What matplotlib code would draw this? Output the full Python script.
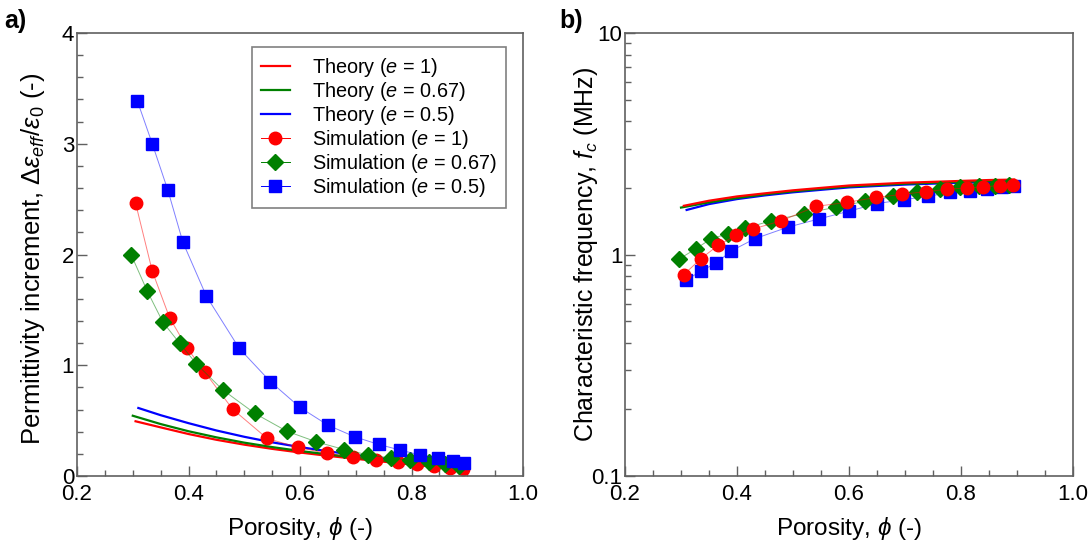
import matplotlib
matplotlib.use("Agg")
import matplotlib.pyplot as plt
from matplotlib.lines import Line2D
from matplotlib.ticker import MultipleLocator, LogLocator, FixedLocator, NullFormatter

plt.rcParams['font.family'] = ['Liberation Sans', 'DejaVu Sans']
plt.rcParams['mathtext.fontset'] = 'custom'
plt.rcParams['mathtext.rm'] = 'Liberation Sans'
plt.rcParams['mathtext.it'] = 'Liberation Sans:italic'
plt.rcParams['mathtext.bf'] = 'Liberation Sans:bold'

# ---- theory curves (porosity grid) ----
phi_th_r = [0.305, 0.35, 0.40, 0.45, 0.50, 0.55, 0.60, 0.65, 0.70, 0.75, 0.80, 0.85, 0.895]
phi_th_g = [0.300, 0.35, 0.40, 0.45, 0.50, 0.55, 0.60, 0.65, 0.70, 0.75, 0.80, 0.85, 0.895]
phi_th_b = [0.310, 0.35, 0.40, 0.45, 0.50, 0.55, 0.60, 0.65, 0.70, 0.75, 0.80, 0.85, 0.895]

eps_th_r = [0.495, 0.44, 0.38, 0.328, 0.284, 0.246, 0.213, 0.183, 0.156, 0.13, 0.105, 0.08, 0.055]
eps_th_g = [0.545, 0.47, 0.405, 0.35, 0.302, 0.262, 0.227, 0.196, 0.167, 0.14, 0.113, 0.085, 0.058]
eps_th_b = [0.615, 0.55, 0.478, 0.412, 0.355, 0.305, 0.262, 0.224, 0.19, 0.158, 0.127, 0.095, 0.062]

fc_th_r = [1.66, 1.75, 1.83, 1.89, 1.95, 2.00, 2.05, 2.08, 2.11, 2.13, 2.15, 2.17, 2.18]
fc_th_g = [1.63, 1.72, 1.80, 1.87, 1.93, 1.98, 2.03, 2.06, 2.09, 2.11, 2.13, 2.15, 2.16]
fc_th_b = [1.59, 1.69, 1.78, 1.85, 1.91, 1.96, 2.01, 2.04, 2.07, 2.09, 2.11, 2.12, 2.13]

# ---- simulation points ----
phi_sim_r = [0.305, 0.335, 0.366, 0.398, 0.429, 0.479, 0.541, 0.596, 0.648, 0.695,
             0.737, 0.775, 0.810, 0.840, 0.869, 0.892]
phi_sim_g = [0.297, 0.326, 0.354, 0.384, 0.414, 0.461, 0.519, 0.576, 0.629, 0.679,
             0.722, 0.763, 0.798, 0.832, 0.860, 0.886]
phi_sim_b = [0.308, 0.335, 0.363, 0.390, 0.432, 0.491, 0.547, 0.600, 0.650, 0.698,
             0.741, 0.780, 0.816, 0.847, 0.874, 0.894]

eps_sim_r = [2.465, 1.85, 1.43, 1.153, 0.94, 0.605, 0.34, 0.26, 0.205, 0.17,
             0.145, 0.126, 0.108, 0.09, 0.075, 0.066]
eps_sim_g = [2.0, 1.67, 1.39, 1.20, 1.014, 0.78, 0.566, 0.406, 0.31, 0.24,
             0.192, 0.163, 0.142, 0.124, 0.108, 0.093]
eps_sim_b = [3.39, 3.00, 2.58, 2.11, 1.625, 1.153, 0.852, 0.62, 0.46, 0.355,
             0.286, 0.235, 0.19, 0.16, 0.138, 0.12]

fc_sim_r = [0.812, 0.956, 1.10, 1.22, 1.306, 1.42, 1.65, 1.72, 1.81, 1.87,
            1.925, 1.97, 2.00, 2.02, 2.05, 2.06]
fc_sim_g = [0.956, 1.06, 1.18, 1.24, 1.315, 1.42, 1.53, 1.635, 1.74, 1.83,
            1.925, 1.98, 2.01, 2.03, 2.05, 2.06]
fc_sim_b = [0.765, 0.84, 0.917, 1.04, 1.18, 1.33, 1.45, 1.57, 1.70, 1.77,
            1.83, 1.91, 1.94, 1.98, 2.01, 2.03]

labels_th = ['Theory ($e$ = 1)', 'Theory ($e$ = 0.67)', 'Theory ($e$ = 0.5)']
labels_sim = ['Simulation ($e$ = 1)', 'Simulation ($e$ = 0.67)', 'Simulation ($e$ = 0.5)']
colors = ['#ff0000', '#008000', '#0000ff']
markers = ['o', 'D', 's']
msizes = [9, 8.5, 8.5]

fig = plt.figure(figsize=(10.91, 5.46), dpi=100)
ax1 = fig.add_axes([0.0706, 0.128, 0.4088, 0.8115])
ax2 = fig.add_axes([0.5729, 0.128, 0.4106, 0.8115])

spine_col = '#606060'


def style(ax):
    for s in ax.spines.values():
        s.set_color(spine_col)
        s.set_linewidth(1.2)
    ax.tick_params(which='both', direction='in', top=False, right=False,
                   color=spine_col, labelsize=16)
    ax.tick_params(axis='x', pad=6)
    ax.tick_params(axis='y', pad=2)
    ax.tick_params(which='major', length=7, width=1)
    ax.tick_params(which='minor', length=4, width=1)
    ax.set_xlim(0.2, 1.0)
    ax.xaxis.set_major_locator(MultipleLocator(0.2))
    ax.xaxis.set_minor_locator(MultipleLocator(0.05))
    ax.set_xlabel(r'Porosity, $\phi$ (-)', fontsize=17.5, labelpad=7)


# panel a
th_a = [(phi_th_r, eps_th_r), (phi_th_g, eps_th_g), (phi_th_b, eps_th_b)]
sim_a = [(phi_sim_r, eps_sim_r), (phi_sim_g, eps_sim_g), (phi_sim_b, eps_sim_b)]
for (x, y), c in zip(th_a, colors):
    ax1.plot(x, y, color=c, lw=1.6)
for (x, y), c, m, ms in zip(sim_a, colors, markers, msizes):
    ax1.plot(x, y, color=c, lw=0.7, alpha=0.5)
    ax1.plot(x, y, ls='none', marker=m, ms=ms, color=c, mec=c)
style(ax1)
ax1.set_ylim(0, 4)
ax1.yaxis.set_major_locator(MultipleLocator(1))
ax1.yaxis.set_minor_locator(MultipleLocator(0.2))
ax1.set_ylabel(r'Permittivity increment, $\Delta\varepsilon_{eff}/\varepsilon_{0}$ (-)',
               fontsize=18.5)
ax1.yaxis.set_label_coords(-0.067, 0.49)

# legend: plain lines for theory, markers on faint lines for simulation
handles = [Line2D([], [], color=c, lw=1.6) for c in colors]
handles += [Line2D([], [], color=c, lw=0.7, marker=m, ms=ms,
                   markerfacecolor=c, markeredgecolor=c)
            for c, m, ms in zip(colors, markers, msizes)]
leg = ax1.legend(handles, labels_th + labels_sim, loc='upper right',
                 bbox_to_anchor=(0.975, 0.982), fontsize=14.3, frameon=True,
                 fancybox=False, edgecolor=spine_col, handlelength=1.5,
                 handletextpad=1.1, labelspacing=0.05, borderpad=0.45,
                 borderaxespad=0.3)
leg.get_frame().set_linewidth(1.2)

# panel b
th_b = [(phi_th_r, fc_th_r), (phi_th_g, fc_th_g), (phi_th_b, fc_th_b)]
sim_b = [(phi_sim_r, fc_sim_r), (phi_sim_g, fc_sim_g), (phi_sim_b, fc_sim_b)]
for (x, y), c in zip(th_b[::-1], colors[::-1]):
    ax2.plot(x, y, color=c, lw=1.6)
for (x, y), c, m, ms in zip(sim_b[::-1], colors[::-1], markers[::-1], msizes[::-1]):
    ax2.plot(x, y, color=c, lw=0.7, alpha=0.5)
    ax2.plot(x, y, ls='none', marker=m, ms=ms, color=c, mec=c)
ax2.set_yscale('log')
style(ax2)
ax2.set_ylim(0.1, 10)
ax2.yaxis.set_major_locator(FixedLocator([0.1, 1, 10]))
ax2.yaxis.set_major_formatter(plt.FuncFormatter(lambda v, p: '%g' % v))
ax2.yaxis.set_minor_locator(LogLocator(base=10, subs=range(2, 10)))
ax2.yaxis.set_minor_formatter(NullFormatter())
ax2.set_ylabel(r'Characteristic frequency, $f_c$ (MHz)', fontsize=18)
ax2.yaxis.set_label_coords(-0.055, 0.5)

fig.text(0.004, 0.948, 'a)', fontsize=18, fontweight='bold')
fig.text(0.513, 0.948, 'b)', fontsize=18, fontweight='bold')

fig.savefig('out.png', dpi=100)
